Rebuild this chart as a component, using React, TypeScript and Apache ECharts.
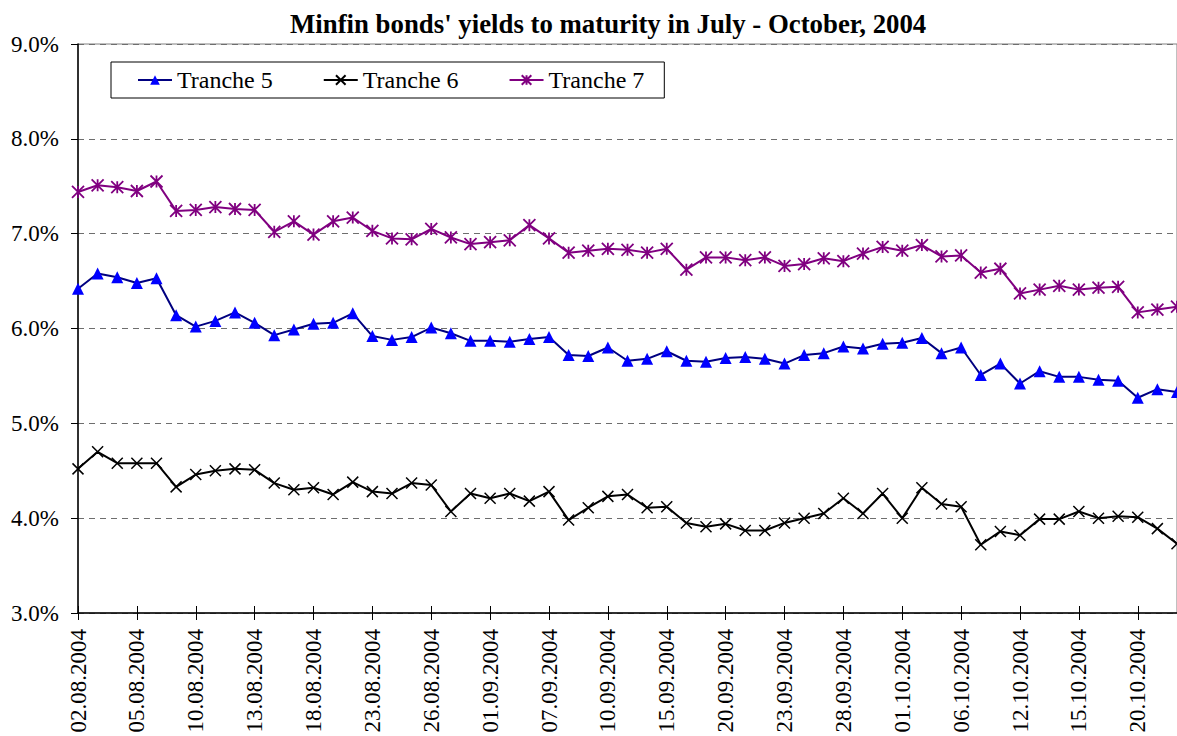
import React, { useEffect, useRef } from "react";
import * as echarts from "echarts";

const dates = [
  "02.08.2004", "03.08.2004", "04.08.2004", "05.08.2004", "06.08.2004", "09.08.2004", "10.08.2004", "11.08.2004", "12.08.2004", "13.08.2004",
  "16.08.2004", "17.08.2004", "18.08.2004", "19.08.2004", "20.08.2004", "23.08.2004", "24.08.2004", "25.08.2004", "26.08.2004", "27.08.2004",
  "31.08.2004", "01.09.2004", "02.09.2004", "03.09.2004", "07.09.2004", "08.09.2004", "09.09.2004", "10.09.2004", "13.09.2004", "14.09.2004",
  "15.09.2004", "16.09.2004", "17.09.2004", "20.09.2004", "21.09.2004", "22.09.2004", "23.09.2004", "24.09.2004", "27.09.2004", "28.09.2004",
  "29.09.2004", "30.09.2004", "01.10.2004", "04.10.2004", "05.10.2004", "06.10.2004", "07.10.2004", "11.10.2004", "12.10.2004", "13.10.2004",
  "14.10.2004", "15.10.2004", "18.10.2004", "19.10.2004", "20.10.2004", "21.10.2004", "22.10.2004",
];

const tranche5 = [
  6.42, 6.58, 6.54, 6.48, 6.53, 6.14, 6.02, 6.08, 6.17, 6.06,
  5.93, 5.99, 6.05, 6.06, 6.16, 5.92, 5.88, 5.91, 6.01, 5.95,
  5.87, 5.87, 5.86, 5.89, 5.91, 5.72, 5.71, 5.80, 5.66, 5.68,
  5.76, 5.66, 5.65, 5.69, 5.70, 5.68, 5.63, 5.72, 5.74, 5.81,
  5.79, 5.84, 5.85, 5.90, 5.74, 5.80, 5.51, 5.63, 5.42, 5.55,
  5.49, 5.49, 5.46, 5.45, 5.27, 5.36, 5.33,
];

const tranche6 = [
  4.52, 4.70, 4.58, 4.58, 4.58, 4.33, 4.46, 4.50, 4.52, 4.51,
  4.37, 4.30, 4.32, 4.25, 4.38, 4.28, 4.26, 4.37, 4.35, 4.07,
  4.26, 4.21, 4.26, 4.18, 4.28, 3.98, 4.11, 4.23, 4.25, 4.11,
  4.12, 3.95, 3.91, 3.94, 3.87, 3.87, 3.95, 4.00, 4.05, 4.21,
  4.05, 4.26, 4.00, 4.32, 4.15, 4.12, 3.72, 3.86, 3.82, 3.99,
  3.99, 4.07, 4.00, 4.02, 4.01, 3.89, 3.73,
];

const tranche7 = [
  7.44, 7.51, 7.49, 7.45, 7.55, 7.24, 7.25, 7.28, 7.26, 7.25,
  7.02, 7.13, 6.99, 7.13, 7.17, 7.03, 6.95, 6.94, 7.05, 6.96,
  6.89, 6.91, 6.93, 7.09, 6.95, 6.80, 6.82, 6.84, 6.83, 6.80,
  6.84, 6.62, 6.75, 6.75, 6.72, 6.75, 6.66, 6.68, 6.74, 6.71,
  6.79, 6.86, 6.82, 6.88, 6.76, 6.77, 6.59, 6.63, 6.37, 6.41,
  6.45, 6.41, 6.43, 6.44, 6.17, 6.20, 6.23,
];

const seriesNames = ["Tranche 5", "Tranche 6", "Tranche 7"];
const titleText = "Minfin bonds' yields to maturity in July - October, 2004";

const FONT = "'Liberation Serif', 'Times New Roman', serif";
const CROSS = "path://M0,0 L10,10 M10,0 L0,10";
const STAR = "path://M0,0 L10,10 M10,0 L0,10 M5,0 L5,10";

export default function App() {
  const ref = useRef<HTMLDivElement>(null);
  useEffect(() => {
    if (!ref.current) return;
    const chart = echarts.init(ref.current, null, { renderer: "svg" });
    chart.setOption({
      animation: false,
      backgroundColor: "#ffffff",
      title: {
        text: titleText,
        left: 290,
        top: 10,
        padding: 0,
        textStyle: { fontFamily: FONT, fontWeight: "bold", fontSize: 26.8, color: "#000" },
      },
      legend: {
        data: seriesNames,
        left: 111,
        top: 62,
        orient: "horizontal",
        padding: [6, 20, 6, 26],
        itemGap: 50,
        itemWidth: 34,
        itemHeight: 12,
        borderColor: "#000",
        borderWidth: 1,
        backgroundColor: "#fff",
        textStyle: { fontFamily: FONT, fontSize: 24, color: "#000" },
      },
      grid: {
        left: 78,
        top: 44,
        right: -9,
        bottom: 123,
        show: true,
        borderColor: "#808080",
        borderWidth: 1,
        backgroundColor: "transparent",
      },
      xAxis: [
        {
          type: "category",
          data: dates,
          boundaryGap: false,
          axisLine: { lineStyle: { color: "#000", width: 1.5 } },
          axisTick: { interval: 2, length: 7, lineStyle: { color: "#000" } },
          axisLabel: {
            interval: 2,
            rotate: 90,
            margin: 16,
            fontFamily: FONT,
            fontSize: 23,
            color: "#000",
          },
          splitLine: { show: false },
        },
        {
          type: "category",
          data: dates,
          boundaryGap: false,
          position: "bottom",
          axisLine: { show: false },
          axisTick: { interval: 2, length: 7, inside: true, lineStyle: { color: "#000" } },
          axisLabel: { show: false },
          splitLine: { show: false },
        },
      ],
      yAxis: {
        type: "value",
        min: 3,
        max: 9,
        interval: 1,
        axisLine: { show: true, lineStyle: { color: "#000", width: 1.5 } },
        axisTick: { show: true, length: 7, lineStyle: { color: "#000" } },
        axisLabel: {
          margin: 19,
          fontFamily: FONT,
          fontSize: 23,
          color: "#000",
          formatter: (v: number) => v.toFixed(1) + "%",
        },
        splitLine: { show: true, lineStyle: { color: "#6e6e6e", type: [6, 5], width: 1.2 } },
      },
      series: [
        {
          name: seriesNames[0],
          type: "line",
          data: tranche5,
          symbol: "triangle",
          symbolSize: 12,
          showAllSymbol: true,
          lineStyle: { color: "#000080", width: 2 },
          itemStyle: { color: "#0000ff", borderColor: "#0000ff", borderWidth: 0 },
          z: 3,
        },
        {
          name: seriesNames[1],
          type: "line",
          data: tranche6,
          symbol: CROSS,
          symbolSize: 11,
          showAllSymbol: true,
          lineStyle: { color: "#000000", width: 2 },
          itemStyle: { color: "none", borderColor: "#000000", borderWidth: 1.5 },
          z: 3,
        },
        {
          name: seriesNames[2],
          type: "line",
          data: tranche7,
          symbol: STAR,
          symbolSize: 12,
          showAllSymbol: true,
          lineStyle: { color: "#800080", width: 2 },
          itemStyle: { color: "none", borderColor: "#800080", borderWidth: 1.8 },
          z: 3,
        },
      ],
    });
    return () => chart.dispose();
  }, []);
  return (
    <div
      ref={ref}
      style={{ position: "fixed", left: 0, top: 0, width: 1177, height: 736, background: "#fff" }}
    />
  );
}
